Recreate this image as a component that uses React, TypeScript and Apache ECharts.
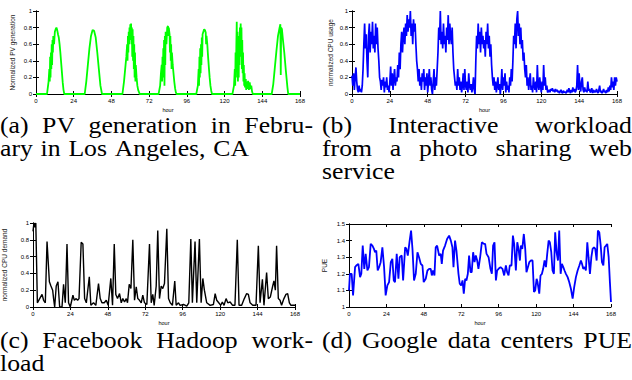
import React, { useEffect, useRef } from "react";
import * as echarts from "echarts";

// ---------- data ----------
const hourTickStep = 24;
const hourMax = 168;

// (a) normalized PV generation, [hour, value]
const pvGeneration: [number, number][] = [
  [0, 0], [7, 0], [8, 0.15], [8.5, 0.3], [8.75, 0.15], [9, 0.45], [9.25, 0.2], [9.5, 0.5], [9.75, 0.3], [10, 0.6], [10.25, 0.35], [10.5, 0.65], [10.75, 0.5], [11, 0.7], [11.5, 0.6], [12, 0.75], [12.5, 0.78], [13, 0.8], [13.5, 0.77], [14, 0.72], [14.5, 0.68], [15, 0.6], [15.5, 0.5], [16, 0.38], [16.5, 0.26], [17, 0.14], [17.5, 0.05], [18, 0],
  [31, 0], [32, 0.15], [33, 0.35], [34, 0.55], [35, 0.7], [36, 0.77], [37, 0.76], [38, 0.68], [39, 0.5], [40, 0.3], [41, 0.1], [42, 0],
  [55, 0], [56, 0.15], [57, 0.35], [57.5, 0.45], [58, 0.6], [58.25, 0.4], [58.5, 0.7], [58.75, 0.5], [59, 0.75], [59.25, 0.6], [59.5, 0.8], [59.75, 0.65], [60, 0.84], [60.25, 0.7], [60.5, 0.85], [60.75, 0.6], [61, 0.8], [61.25, 0.45], [61.5, 0.78], [61.75, 0.4], [62, 0.7], [62.25, 0.3], [62.5, 0.6], [62.75, 0.2], [63, 0.5], [63.25, 0.15], [63.5, 0.35], [64, 0.2], [64.5, 0.1], [65, 0.05], [66, 0],
  [78, 0], [79, 0.1], [79.5, 0.25], [80, 0.35], [80.25, 0.15], [80.5, 0.45], [80.75, 0.2], [81, 0.55], [81.25, 0.3], [81.5, 0.65], [81.75, 0.1], [82, 0.7], [82.25, 0.35], [82.5, 0.75], [83, 0.6], [83.5, 0.8], [84, 0.82], [84.25, 0.7], [84.5, 0.8], [85, 0.72], [85.25, 0.5], [85.5, 0.7], [85.75, 0.4], [86, 0.6], [86.25, 0.3], [86.5, 0.5], [87, 0.35], [87.5, 0.25], [88, 0.15], [88.5, 0.07], [89, 0.02], [89.5, 0],
  [102, 0], [103, 0.1], [103.5, 0.3], [103.75, 0.1], [104, 0.45], [104.25, 0.2], [104.5, 0.55], [104.75, 0.25], [105, 0.6], [105.25, 0.35], [105.5, 0.68], [105.75, 0.45], [106, 0.72], [106.5, 0.75], [107, 0.78], [107.5, 0.77], [108, 0.74], [108.25, 0.6], [108.5, 0.7], [109, 0.6], [109.5, 0.45], [110, 0.32], [110.5, 0.2], [111, 0.1], [111.5, 0.04], [112, 0],
  [125, 0], [126, 0.1], [126.5, 0.3], [126.75, 0.1], [127, 0.5], [127.25, 0.2], [127.5, 0.6], [127.75, 0.87], [128, 0.3], [128.25, 0.75], [128.5, 0.15], [128.75, 0.55], [129, 0.2], [129.25, 0.7], [129.5, 0.35], [129.75, 0.8], [130, 0.45], [130.25, 0.85], [130.5, 0.5], [130.75, 0.8], [131, 0.3], [131.25, 0.65], [131.5, 0.25], [131.75, 0.5], [132, 0.15], [132.25, 0.35], [132.5, 0.1], [132.75, 0.25], [133, 0.08], [133.5, 0.18], [133.75, 0.05], [134, 0.15], [134.5, 0.06], [135, 0.16], [135.5, 0.05], [136, 0.14], [136.5, 0.06], [137, 0.1], [137.5, 0.03], [138, 0],
  [150, 0], [151, 0.12], [152, 0.32], [153, 0.52], [154, 0.7], [155, 0.8], [155.5, 0.84], [155.75, 0.23], [156, 0.8], [156.5, 0.78], [157, 0.68], [158, 0.5], [159, 0.28], [160, 0.08], [160.5, 0], [168, 0],
];

// (b) normalized CPU usage, one value every half hour from hour 0 to 168
const cpuUsageStep = 0.5;
const cpuUsage: number[] = [
  0.22, 0.1, 0.25, 0.05, 0.2, 0.32, 0.15, 0.05, 0.02, 0.1, 0.03, 0.06, 0.02, 0.1, 0.3,
  0.6, 0.85, 0.55, 0.72, 0.4, 0.2, 0.7, 0.85, 0.5, 0.75, 0.6, 0.87, 0.55, 0.7, 0.5, 0.85, 0.6, 0.8, 0.55, 0.4,
  0.2, 0.15, 0.05, 0.17, 0.1, 0.2, 0.02, 0.15, 0.08, 0.2, 0.05, 0.1, 0.02, 0.15,
  0.33, 0.1, 0.25, 0.05, 0.2, 0.3, 0.1, 0.2,
  0.15, 0.35, 0.2, 0.5, 0.3, 0.6,
  0.75, 0.5, 0.7, 0.8, 0.6, 0.85, 0.7, 0.95, 0.75, 0.9, 0.8, 1.0, 0.7, 0.85, 0.6, 0.9, 0.75, 0.85,
  0.6, 0.4, 0.3, 0.15,
  0.3, 0.1, 0.2, 0.05, 0.25, 0.15, 0.3, 0.05, 0.2, 0.1, 0.25, 0.02, 0.15, 0.3, 0.1, 0.2, 0.05, 0.0, 0.15, 0.3, 0.05, 0.2, 0.1, 0.3,
  0.5, 0.8, 0.65, 1.0, 0.6, 0.75, 0.55, 0.85, 0.6, 0.7, 0.5, 0.8, 0.65, 0.95, 0.6, 0.85, 0.7, 0.6, 0.8, 0.5,
  0.3, 0.2, 0.1, 0.15, 0.05, 0.3, 0.1, 0.2, 0.05, 0.15, 0.02, 0.1, 0.25, 0.05, 0.3, 0.1, 0.05, 0.15, 0.02, 0.25, 0.1, 0.05, 0.12, 0.02, 0.08, 0.2, 0.05, 0.0,
  0.4, 0.7, 0.55, 0.85, 0.6, 0.75, 0.5, 0.8, 0.6, 0.7, 0.55, 0.65, 0.45, 0.75, 0.6, 0.85, 0.55, 0.7, 0.45, 0.6, 0.35, 0.2,
  0.1, 0.2, 0.05, 0.15, 0.02, 0.1, 0.2, 0.05, 0.12, 0.0, 0.1, 0.3, 0.05, 0.2, 0.1, 0.25, 0.02, 0.15, 0.05, 0.1, 0.02, 0.2, 0.1, 0.3, 0.15, 0.4,
  0.7, 0.6, 0.85, 0.55, 0.9, 1.0, 0.7, 0.85, 0.6, 0.8, 0.55, 0.65, 0.4, 0.5,
  0.3, 0.2, 0.35, 0.1, 0.2, 0.05, 0.15, 0.25, 0.05, 0.1, 0.02, 0.2, 0.1, 0.05, 0.15, 0.02, 0.35, 0.1, 0.05, 0.2, 0.1, 0.02, 0.15, 0.05, 0.35, 0.1, 0.2, 0.05, 0.1, 0.02,
  0.03, 0.05, 0.02, 0.06, 0.04, 0.07, 0.03, 0.05, 0.02, 0.06, 0.03, 0.05,
  0.02, 0.04, 0.01, 0.03, 0.05, 0.02, 0.01, 0.04, 0.02, 0.03, 0.01, 0.02,
  0.05, 0.02, 0.07, 0.03, 0.01, 0.05, 0.02, 0.08, 0.03, 0.06, 0.02, 0.04,
  0.1, 0.35, 0.05, 0.25, 0.08, 0.03, 0.15, 0.2, 0.05, 0.02, 0.08, 0.03,
  0.05, 0.02, 0.15, 0.04, 0.06, 0.02, 0.03, 0.07, 0.01, 0.05, 0.02, 0.04,
  0.02, 0.06, 0.03, 0.01, 0.05, 0.1, 0.02, 0.04, 0.01, 0.03, 0.06, 0.02,
  0.04, 0.01, 0.05, 0.02, 0.08, 0.03, 0.1, 0.05, 0.2, 0.08, 0.15, 0.05,
  0.2, 0.1, 0.2, 0.15,
];

// (c) normalized CPU demand of the Facebook Hadoop workload, [hour, value]
const hadoopDemand: [number, number][] = [
  [0, 0.9], [0.6, 1.0], [1.3, 0.95], [1.8, 1.0], [2.8, 0.05], [4.3, 0.1], [5.8, 0.15], [6.8, 0.08], [7.9, 0.05], [9, 0.78], [10.5, 0.3], [11.5, 0.25], [12.6, 0.2], [13.2, 0.1], [13.9, 0], [14.9, 0.25], [16, 0.3], [17.1, 0], [18.6, 0], [19.6, 0.27], [20.7, 0.05], [21.8, 0.75], [22.8, 0.05], [23.9, 0],
  [25.6, 0.14], [26.5, 0.08], [27.7, 0.1], [28.6, 0.08], [29.5, 0.1], [30.9, 0.77], [32, 0.75], [33.1, 0.1], [34.2, 0.05], [36.1, 0.36], [37.1, 0.02], [38.8, 0.05], [40.3, 0.02], [42, 0.28], [43.1, 0.1], [44.2, 0.05], [45.7, 0.05], [47, 0.08], [48.2, 0.02],
  [49.9, 0.34], [51, 0.02], [52.1, 0.75], [53.1, 0.15], [54.2, 0.1], [55.5, 0.16], [56.6, 0.05], [57.6, 0.1], [58.7, 0.06], [59.8, 0.1], [60.6, 0.05], [61.7, 0.27], [62.8, 0.22], [64, 0.8], [65.1, 0.08], [66.2, 0.24], [67.2, 0.1], [68.3, 0.08], [69.4, 0.05], [70.4, 0.14], [71.5, 0.05],
  [73, 0.03], [74.7, 0.75], [75.8, 0.05], [76.8, 0.15], [77.7, 0.02], [79, 0.25], [80, 0.91], [81.1, 0.1], [82.2, 0.25], [83.2, 0.22], [84.3, 0.28], [85.8, 0.93], [86.9, 0.1], [88, 0.05], [89.4, 0.02], [90.9, 0.31], [91.8, 0.02], [93.3, 0.05], [94.3, 0.02],
  [96.5, 0.03], [98.6, 0.01], [99.9, 0.05], [101.2, 0.81], [102.2, 0.05], [103.9, 0.78], [105, 0.05], [106.7, 0.81], [107.8, 0.05], [108.9, 0.34], [109.9, 0.2], [111.4, 0.05], [113.6, 0.02], [115.7, 0.03], [116.8, 0.16], [117.8, 0.08], [119.1, 0.05],
  [120.4, 0.02], [121.4, 0.06], [122.5, 0.02], [123.8, 0.1], [124.9, 0.05], [126.4, 0.06], [128, 0.02], [129.5, 0.02], [131, 0.8], [132.1, 0.02], [133.8, 0.02], [135.5, 0.1], [137, 0.16], [138.1, 0.15], [139.2, 0.05], [140.9, 0.02], [143, 0.02],
  [144.5, 0.73], [145.6, 0.05], [147.1, 0.33], [148.1, 0.02], [149.8, 0.41], [150.9, 0.1], [152.2, 0.12], [153.7, 0.25], [154.5, 0.31], [155.4, 0.2], [156.2, 0.73], [157.3, 0.1], [158.4, 0.08], [159.4, 0.02], [160.9, 0.1], [162.2, 0.15], [163.3, 0.16], [164.4, 0.05], [165.4, 0.02], [166.9, 0.02], [168, 0.02],
];

// (d) Google data centers PUE, [hour, value]
const pue: [number, number][] = [
  [0, 1.1], [0.6, 1.2], [1.7, 1.2], [2.6, 1.07], [3.9, 1.24], [4.7, 1.25], [6, 1.26], [7.1, 1.18], [7.9, 1.2], [8.8, 1.37], [9.8, 1.23], [10.7, 1.32], [11.8, 1.22], [12.8, 1.24], [13.9, 1.38], [15, 1.37], [16, 1.35], [16.7, 1.33], [17.5, 1.34], [18.4, 1.22], [19.3, 1.24], [20.3, 1.27], [21.4, 1.36], [22.5, 1.24], [23.5, 1.07],
  [24.6, 1.13], [25.7, 1.15], [26.8, 1.27], [27.8, 1.29], [28.7, 1.16], [29.5, 1.15], [30.6, 1.32], [31.7, 1.17], [32.5, 1.3], [33.8, 1.31], [34.7, 1.16], [36, 1.36], [36.8, 1.35], [37.7, 1.31], [38.9, 1.4], [39.8, 1.46], [40.7, 1.35], [41.7, 1.16], [42.8, 1.2], [43.9, 1.33], [44.9, 1.3], [46, 1.26], [47.1, 1.25], [47.9, 1.15],
  [49.2, 1.17], [50.3, 1.22], [51.4, 1.23], [52.4, 1.23], [53.1, 1.19], [53.9, 1.22], [54.8, 1.19], [55.6, 1.36], [56.5, 1.37], [57.8, 1.31], [58.8, 1.32], [59.5, 1.26], [60.3, 1.34], [61.6, 1.37], [62.9, 1.41], [64.2, 1.43], [65.3, 1.4], [66.3, 1.36], [67, 1.24], [68, 1.4], [68.9, 1.34], [70.2, 1.2], [71, 1.14], [71.9, 1.13],
  [72.8, 1.16], [73.6, 1.08], [74.5, 1.17], [75.3, 1.16], [76.2, 1.2], [77, 1.31], [77.9, 1.21], [78.7, 1.21], [79.6, 1.33], [80.5, 1.27], [81.3, 1.31], [82.2, 1.28], [83, 1.23], [84.1, 1.3], [85.2, 1.39], [86.5, 1.38], [87.3, 1.38], [88.2, 1.32], [89.5, 1.3], [90.7, 1.23], [91.6, 1.2], [92.4, 1.37], [93.3, 1.39], [94.2, 1.16], [95, 1.22],
  [95.9, 1.23], [97.2, 1.24], [98.4, 1.23], [99.5, 1.19], [100.6, 1.25], [101.4, 1.21], [102.3, 1.19], [103.1, 1.25], [104.2, 1.25], [105.1, 1.43], [105.9, 1.38], [107, 1.22], [107.9, 1.39], [108.7, 1.35], [109.6, 1.28], [110.2, 1.37], [111.1, 1.35], [112.1, 1.44], [113, 1.35], [113.8, 1.21], [114.7, 1.24], [115.6, 1.27], [116.6, 1.28], [117.7, 1.28], [118.6, 1.09], [119.4, 1.1],
  [120.3, 1.17], [120.9, 1.15], [122, 1.08], [122.8, 1.19], [123.7, 1.2], [124.5, 1.23], [125.4, 1.28], [126.3, 1.24], [127.1, 1.32], [128, 1.4], [128.8, 1.39], [129.7, 1.33], [130.5, 1.22], [131.4, 1.2], [132.2, 1.45], [133.1, 1.33], [134, 1.28], [134.8, 1.46], [135.7, 1.2], [136.5, 1.26], [137.4, 1.24], [138.2, 1.22], [139.1, 1.2], [140.2, 1.18], [141.2, 1.15], [142.3, 1.11], [143.4, 1.05],
  [144.4, 1.12], [145.5, 1.18], [146.6, 1.22], [147.7, 1.25], [148.7, 1.28], [149.4, 1.26], [150.2, 1.23], [151.1, 1.24], [151.9, 1.22], [152.8, 1.39], [153.6, 1.3], [154.5, 1.2], [155.4, 1.3], [156.2, 1.35], [157.1, 1.36], [157.9, 1.35], [158.8, 1.28], [159.6, 1.46], [160.5, 1.45], [161.4, 1.37], [162.2, 1.27], [163.1, 1.25], [163.9, 1.36], [164.8, 1.37], [165.6, 1.38], [166.5, 1.3], [167.3, 1.15], [168, 1.03],
];

const yAxisNames = ["Normalized PV generation", "normalized CPU usage", "normalized CPU demand", "PUE"];
const xAxisName = "hour";

const captionA = ["(a) PV generation in Febru-", "ary in Los Angeles, CA"];
const captionB = ["(b) Interactive workload", "from a photo sharing web", "service"];
const captionC = ["(c) Facebook Hadoop work-", "load"];
const captionD = ["(d) Google data centers PUE"];

// ---------- layout / style ----------
const GRIDS = [
  { left: 36, top: 11, width: 264, height: 83, ymin: 0, ymax: 1, yint: 0.2, nameGap: 20 },
  { left: 352, top: 11, width: 265, height: 83, ymin: 0, ymax: 1, yint: 0.2, nameGap: 18 },
  { left: 33, top: 223, width: 262, height: 84, ymin: 0, ymax: 1, yint: 0.2, nameGap: 25 },
  { left: 349, top: 224, width: 262, height: 83, ymin: 1, ymax: 1.5, yint: 0.1, nameGap: 21 },
];
const SANS = "Liberation Sans";
const SERIF = "Liberation Serif";
const CAP_SIZE = 23;
const CAP_SCALE_X = 1.12;

function captionElements(lines: string[], x0: number, x1: number, y0: number, lineH: number, justifyCount: number) {
  const canvas = document.createElement("canvas");
  const ctx = canvas.getContext("2d")!;
  ctx.font = `${CAP_SIZE}px "${SERIF}"`;
  const out: any[] = [];
  lines.forEach((line, li) => {
    const words = line.split(" ");
    const widths = words.map((w) => ctx.measureText(w).width * CAP_SCALE_X);
    const total = widths.reduce((a, b) => a + b, 0);
    let gap = ctx.measureText(" ").width * CAP_SCALE_X * 1.2;
    if (li < justifyCount && words.length > 1) gap = (x1 - x0 - total) / (words.length - 1);
    let x = x0;
    const y = y0 + li * lineH;
    words.forEach((w, i) => {
      out.push({
        type: "text",
        x,
        y,
        scaleX: CAP_SCALE_X,
        style: {
          text: w,
          fontFamily: SERIF,
          fontSize: CAP_SIZE,
          fill: "#000",
          textAlign: "left",
          textVerticalAlign: "middle",
          align: "left",
          verticalAlign: "middle",
        },
      });
      x += widths[i] + gap;
    });
  });
  return out;
}

export default function App() {
  const ref = useRef<HTMLDivElement>(null);
  useEffect(() => {
    if (!ref.current) return;
    const chart = echarts.init(ref.current, undefined, { renderer: "svg" });
    const axisLine = { show: true, lineStyle: { color: "#000", width: 1 } };
    const axisTick = { show: true, inside: true, length: 3, lineStyle: { color: "#000", width: 1 } };
    const xAxis: any[] = [];
    const yAxis: any[] = [];
    GRIDS.forEach((g, i) => {
      xAxis.push({
        type: "value", gridIndex: i, position: "bottom", min: 0, max: hourMax, interval: hourTickStep,
        axisLine, axisTick, splitLine: { show: false },
        axisLabel: { fontFamily: SANS, fontSize: 6, color: "#000", margin: 4 },
        name: xAxisName, nameLocation: "middle", nameGap: 13,
        nameTextStyle: { fontFamily: SANS, fontSize: 5.5, color: "#000" },
      });
      xAxis.push({
        type: "value", gridIndex: i, position: "top", min: 0, max: hourMax, interval: hourTickStep,
        axisLine, axisTick, splitLine: { show: false }, axisLabel: { show: false },
      });
      yAxis.push({
        type: "value", gridIndex: i, position: "left", min: g.ymin, max: g.ymax, interval: g.yint,
        axisLine, axisTick, splitLine: { show: false },
        axisLabel: { fontFamily: SANS, fontSize: 6, color: "#000", margin: 4 },
        name: yAxisNames[i], nameLocation: "middle", nameGap: g.nameGap, nameRotate: 90,
        nameTextStyle: { fontFamily: SANS, fontSize: 6.5, color: "#222" },
      });
      yAxis.push({
        type: "value", gridIndex: i, position: "right", min: g.ymin, max: g.ymax, interval: g.yint,
        axisLine, axisTick, splitLine: { show: false }, axisLabel: { show: false },
      });
    });
    const line = (i: number, data: any[], color: string, width: number) => ({
      type: "line", xAxisIndex: 2 * i, yAxisIndex: 2 * i, data, showSymbol: false, symbol: "none",
      lineStyle: { color, width }, itemStyle: { color }, silent: true,
    });
    const graphic = [
      ...captionElements(captionA, 0, 313, 125, 23, 1),
      ...captionElements(captionB, 322, 632, 125, 23, 2),
      ...captionElements(captionC, 0, 313, 340, 23, 1),
      ...captionElements(captionD, 322, 632, 340, 23, 1),
    ];
    chart.setOption({
      animation: false,
      backgroundColor: "#fff",
      grid: GRIDS.map((g) => ({ left: g.left, top: g.top, width: g.width, height: g.height, containLabel: false })),
      xAxis,
      yAxis,
      series: [
        line(0, pvGeneration, "#00ff00", 1.8),
        line(1, cpuUsage.map((v, k) => [k * cpuUsageStep, v]), "#0000ff", 1.7),
        line(2, hadoopDemand, "#000000", 1.4),
        line(3, pue, "#0000ff", 1.8),
      ],
      graphic,
    });
    return () => chart.dispose();
  }, []);
  return <div ref={ref} style={{ position: "fixed", left: 0, top: 0, width: 632, height: 380 }} />;
}
